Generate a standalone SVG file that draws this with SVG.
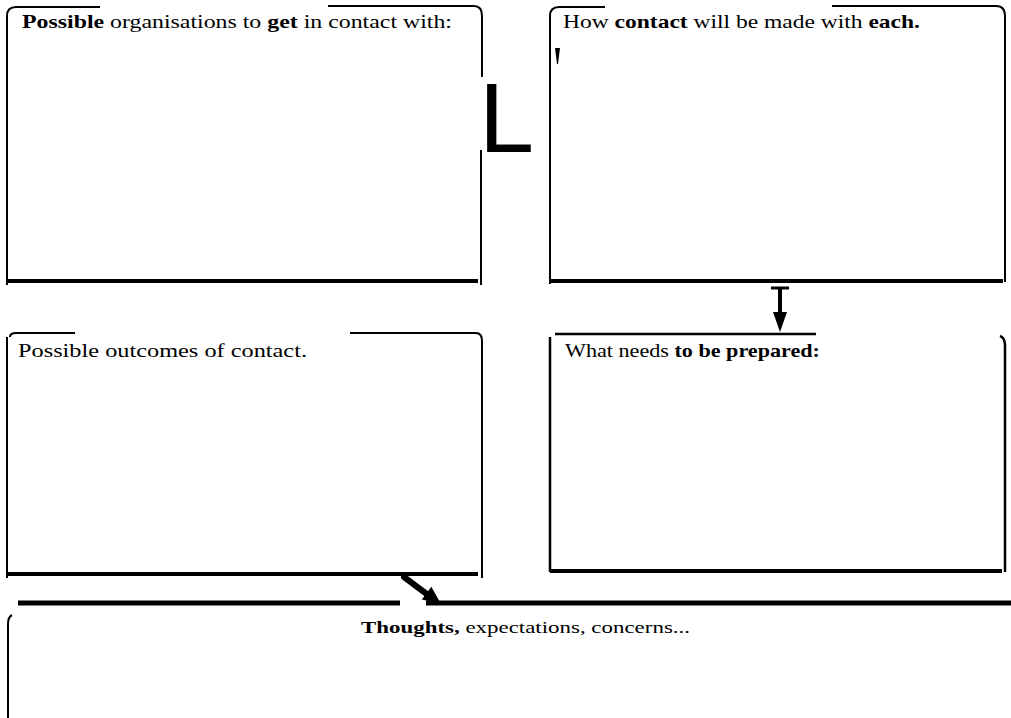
<svg xmlns="http://www.w3.org/2000/svg" width="1011" height="718" viewBox="0 0 1011 718">
<style>
.thin{fill:none;stroke:#000;stroke-width:2}
.thick{fill:none;stroke:#000;stroke-width:4}
.lbl{font-family:"Liberation Serif","Times New Roman",serif;font-size:19px;fill:#000}
.b{font-weight:bold}
.big{font-family:"Liberation Sans",Arial,sans-serif;font-size:99px;fill:#000}
</style>
<rect width="1011" height="718" fill="#fff"/>
<g id="box-organisations">
<path class="thin" d="M7,285 L7,16 Q7,7 16,7 L100,7 M328,6 L474,6 Q482,6 482,16 L482,77 M481,150 L481,285"/>
<path class="thick" d="M7,281 L478,281"/>
<text class="lbl" x="22" y="28" textLength="430" lengthAdjust="spacingAndGlyphs"><tspan class="b">Possible</tspan> organisations to <tspan class="b">get</tspan> in contact with:</text>
</g>
<g id="box-how">
<path class="thin" d="M550,284 L550,16 Q550,7 559,7 L605,7 M832,6 L996,6 Q1005,6 1005,16 L1005,282"/>
<path class="thick" d="M550,281 L1003,281"/>
<polygon points="555,48 560,48 558,64 557,64" fill="#000"/>
<text class="lbl" x="563" y="28" textLength="357" lengthAdjust="spacingAndGlyphs">How <tspan class="b">contact</tspan> will be made with <tspan class="b">each.</tspan></text>
</g>
<g id="letter-L">
<text class="big" x="479" y="152">L</text>
</g>
<g id="box-outcomes">
<path class="thin" d="M7,578 L7,337 M10,337 Q10,333 16,333 L75,333 M350,333 L476,333 Q482,333 482,341 L482,578"/>
<path class="thick" d="M7,574 L478,574"/>
<text class="lbl" x="18" y="357" textLength="289" lengthAdjust="spacingAndGlyphs">Possible outcomes of contact.</text>
</g>
<g id="box-prepared">
<path class="thin" d="M555,334 L816,334 M550,337 L550,572 M1000,336 Q1005,338 1005,345 L1005,572" style="stroke-width:2.5"/>
<path class="thick" d="M550,571 L1002,571"/>
<text class="lbl" x="565" y="357" textLength="255" lengthAdjust="spacingAndGlyphs">What needs <tspan class="b">to be prepared:</tspan></text>
</g>
<g id="box-thoughts">
<path d="M18,603 L400,603 M426,603 L1011,603" fill="none" stroke="#000" stroke-width="5"/>
<path class="thin" d="M8,718 L8,624 Q8,617 12,615"/>
<text class="lbl" x="361" y="633" style="font-size:17px" textLength="329" lengthAdjust="spacingAndGlyphs"><tspan class="b">Thoughts,</tspan> expectations, concerns...</text>
</g>
<g id="connectors">
<path d="M771,288 L789,288" stroke="#000" stroke-width="3" fill="none"/>
<path d="M780,288 L780,314" stroke="#000" stroke-width="4" fill="none"/>
<polygon points="773,312 787,312 780,332" fill="#000"/>
<path d="M404,577 L428,595" stroke="#000" stroke-width="6" fill="none" stroke-linecap="round"/>
<polygon points="441,604 421.8,599.6 431.4,586.8" fill="#000"/>
</g>
</svg>
